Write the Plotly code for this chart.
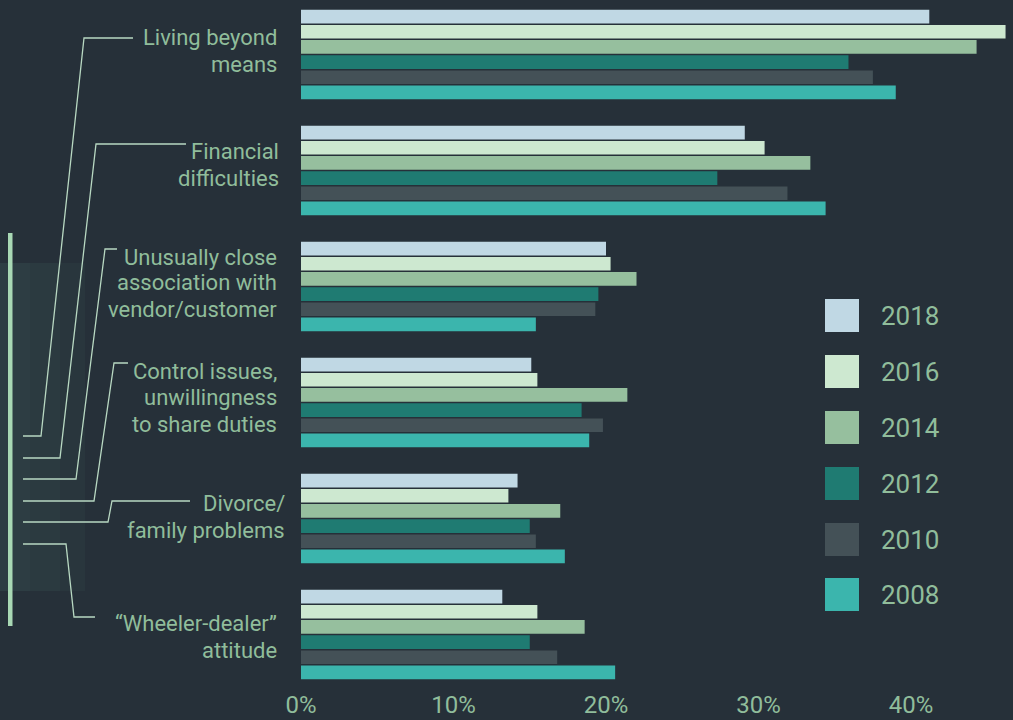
import plotly.graph_objects as go

categories = [
    "Living beyond means",
    "Financial difficulties",
    "Unusually close association with vendor/customer",
    "Control issues, unwillingness to share duties",
    "Divorce/family problems",
    "“Wheeler-dealer” attitude",
]
label_lines = [
    ["Living beyond", "means"],
    ["Financial", "difficulties"],
    ["Unusually close", "association with", "vendor/customer"],
    ["Control issues,", "unwillingness", "to share duties"],
    ["Divorce/", "family problems"],
    ["“Wheeler-dealer”", "attitude"],
]
years = ["2018", "2016", "2014", "2012", "2010", "2008"]
v2018 = [41.2, 29.1, 20.0, 15.1, 14.2, 13.2]
v2016 = [46.2, 30.4, 20.3, 15.5, 13.6, 15.5]
v2014 = [44.3, 33.4, 22.0, 21.4, 17.0, 18.6]
v2012 = [35.9, 27.3, 19.5, 18.4, 15.0, 15.0]
v2010 = [37.5, 31.9, 19.3, 19.8, 15.4, 16.8]
v2008 = [39.0, 34.4, 15.4, 18.9, 17.3, 20.6]
series = [v2018, v2016, v2014, v2012, v2010, v2008]
tick_vals = [0, 10, 20, 30, 40]
tick_text = [f"{v}%" for v in tick_vals]

colors = ["#c0d8e4", "#cde8d0", "#96bf9e", "#1f7b72", "#445157", "#3bb5ad"]
BG = "#263039"
TXT = "#90bd9b"
LINE = "#b8d8c2"
FONT = "Roboto, 'Open Sans', sans-serif"

W, H = 1013, 720
L, T, R, B = 301, 0, 0, 32
PW, PH = W - L - R, H - T - B

def px(x):
    return (x - L) / PW

def py(y):
    return (H - B - y) / PH

fig = go.Figure()
for yr, vals, col in zip(years, series, colors):
    fig.add_trace(go.Bar(
        y=categories, x=vals, orientation="h", name=yr,
        marker=dict(color=col, line=dict(width=0)),
        showlegend=False,
    ))

shapes = []
# faint background panel on the left (gradient approximation)
for x1, op in [(85, 0.25), (60, 0.25), (30, 0.25)]:
    shapes.append(dict(type="rect", xref="paper", yref="paper",
                       x0=px(0), x1=px(x1), y0=py(591), y1=py(263),
                       fillcolor="#33474b", opacity=op, line=dict(width=0), layer="below"))
# vertical bracket bar
shapes.append(dict(type="rect", xref="paper", yref="paper",
                   x0=px(8), x1=px(12.5), y0=py(626), y1=py(233),
                   fillcolor="#a8d8b4", line=dict(width=0)))

# leader lines
leaders = [
    [(23, 436), (41, 436), (84, 38), (133, 38)],
    [(23, 458), (60, 458), (96, 144), (186, 144)],
    [(23, 479), (76, 479), (105, 249), (117, 249)],
    [(23, 501), (94, 501), (114, 363), (128, 363)],
    [(23, 522), (108, 522), (112, 501), (190, 501)],
    [(23, 544), (66, 544), (74, 617), (95, 617)],
]
for pts in leaders:
    path = "M " + " L ".join(f"{px(x):.5f},{py(y):.5f}" for x, y in pts)
    shapes.append(dict(type="path", xref="paper", yref="paper", path=path,
                       line=dict(color=LINE, width=1.3)))

# legend squares
leg_tops = [299, 355, 411, 467, 523, 578]
annotations = []
for yr, col, top in zip(years, colors, leg_tops):
    shapes.append(dict(type="rect", xref="paper", yref="paper",
                       x0=px(825), x1=px(859), y0=py(top + 33), y1=py(top),
                       fillcolor=col, line=dict(width=0)))
    annotations.append(dict(xref="paper", yref="paper", x=px(879), y=py(top + 17),
                            text=yr, showarrow=False, xanchor="left", yanchor="middle",
                            font=dict(family=FONT, size=26, color=TXT)))

# category labels
label_pos = [
    (279, [38, 64]),
    (281, [152, 178]),
    (279, [257, 283, 309]),
    (279, [371, 397, 424]),
    (287, [503, 530]),
    (279, [623, 650]),
]
for lines, (xr, ys) in zip(label_lines, label_pos):
    for t, yy in zip(lines, ys):
        annotations.append(dict(xref="paper", yref="paper", x=px(xr), y=py(yy),
                                text=t, showarrow=False, xanchor="right", yanchor="middle",
                                font=dict(family=FONT, size=22, color=TXT)))

cat_top = -54.5 / 116
cat_bot = (PH - 54.5) / 116

fig.update_layout(
    width=W, height=H,
    margin=dict(l=L, r=R, t=T, b=B, pad=0, autoexpand=False),
    paper_bgcolor=BG, plot_bgcolor=BG,
    barmode="group", bargap=0.2155, bargroupgap=0.1,
    shapes=shapes, annotations=annotations,
    showlegend=False,
    font=dict(family=FONT, color=TXT),
    xaxis=dict(range=[0, PW / 15.25], tickmode="array", tickvals=tick_vals, ticktext=tick_text,
               showgrid=False, zeroline=False, showline=False, ticks="", automargin=False,
               tickfont=dict(family=FONT, size=24, color=TXT), fixedrange=True),
    yaxis=dict(range=[cat_bot, cat_top], showticklabels=False, showgrid=False,
               zeroline=False, showline=False, ticks="", automargin=False,
               categoryorder="array", categoryarray=categories, fixedrange=True),
)

post = (
    "var h=document.documentElement,b=document.body;"
    "h.style.margin='0';h.style.padding='0';h.style.overflow='hidden';h.style.height='720px';"
    "b.style.margin='0';b.style.padding='0';b.style.overflow='hidden';b.style.height='720px';"
    "b.style.background='#263039';"
)
fig.write_html("out.html", config={"displayModeBar": False}, post_script=post)
